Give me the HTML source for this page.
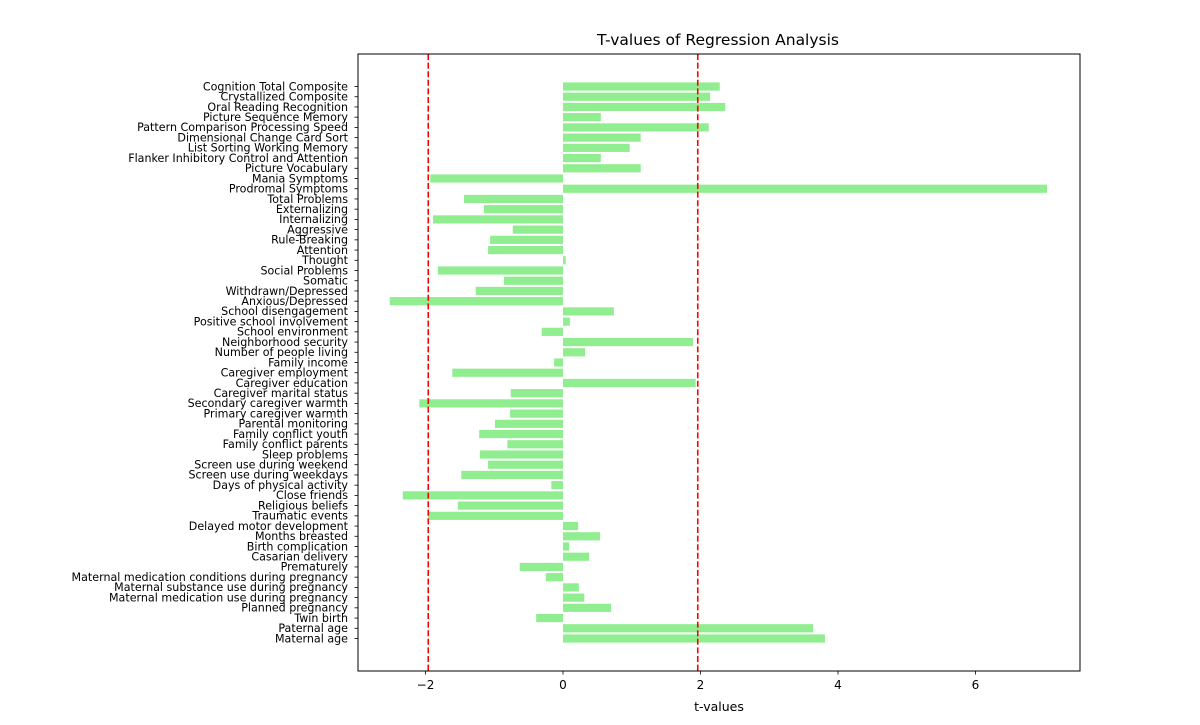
<!DOCTYPE html>
<html><head><meta charset="utf-8"><style>
body{margin:0;background:#fff}
svg{display:block;font-family:"DejaVu Sans","Liberation Sans",sans-serif}
</style></head><body>
<svg id="chart" width="1200" height="725" xmlns="http://www.w3.org/2000/svg">
<text x="718" y="45" font-size="15.5" text-anchor="middle">T-values of Regression Analysis</text>
<g id="bars"></g>
<g id="ylabels"></g>
<g id="xticks"></g>
<g id="refs"></g>
<rect x="358" y="54" width="722" height="617" fill="none" stroke="#000" stroke-width="1"/>
<text x="719" y="711" font-size="12.5" text-anchor="middle">t-values</text>
</svg>
<script>
const categories = ["Cognition Total Composite","Crystallized Composite","Oral Reading Recognition","Picture Sequence Memory","Pattern Comparison Processing Speed","Dimensional Change Card Sort","List Sorting Working Memory","Flanker Inhibitory Control and Attention","Picture Vocabulary","Mania Symptoms","Prodromal Symptoms","Total Problems","Externalizing","Internalizing","Aggressive","Rule-Breaking","Attention","Thought","Social Problems","Somatic","Withdrawn/Depressed","Anxious/Depressed","School disengagement","Positive school involvement","School environment","Neighborhood security","Number of people living","Family income","Caregiver employment","Caregiver education","Caregiver marital status","Secondary caregiver warmth","Primary caregiver warmth","Parental monitoring","Family conflict youth","Family conflict parents","Sleep problems","Screen use during weekend","Screen use during weekdays","Days of physical activity","Close friends","Religious beliefs","Traumatic events","Delayed motor development","Months breasted","Birth complication","Casarian delivery","Prematurely","Maternal medication conditions during pregnancy","Maternal substance use during pregnancy","Maternal medication use during pregnancy","Planned pregnancy","Twin birth","Paternal age","Maternal age"];
const tValues = [2.28,2.14,2.36,0.55,2.12,1.13,0.97,0.55,1.13,-1.93,7.04,-1.44,-1.15,-1.89,-0.73,-1.06,-1.09,0.04,-1.82,-0.86,-1.27,-2.52,0.74,0.1,-0.31,1.89,0.32,-0.13,-1.61,1.93,-0.76,-2.09,-0.77,-0.99,-1.22,-0.81,-1.21,-1.09,-1.48,-0.17,-2.33,-1.53,-1.96,0.22,0.54,0.09,0.38,-0.63,-0.25,0.23,0.31,0.7,-0.39,3.64,3.81];
const xTicks = [-2,0,2,4,6];
const refLines = [-1.96,1.96];
const NS="http://www.w3.org/2000/svg";
const x = v => 563 + v*68.75;
const n = categories.length;
const y = i => 638.5 - (n-1-i)*10.222;
function mk(t,a,p){const e=document.createElementNS(NS,t);for(const k in a)e.setAttribute(k,a[k]);p.appendChild(e);return e;}
const bars=document.getElementById('bars'), yl=document.getElementById('ylabels'), xt=document.getElementById('xticks'), refs=document.getElementById('refs');
categories.forEach((c,i)=>{
  const v=tValues[i];
  const r=mk('rect',{x:Math.min(x(0),x(v)),y:y(i)-4.1,width:Math.abs(x(v)-x(0)),height:8.2,fill:'#90ee90'},bars);
  
  
  mk('line',{x1:354.5,x2:358,y1:y(i),y2:y(i),stroke:'#000','stroke-width':0.8},yl);
  const t=mk('text',{x:348,y:y(i)+3.8,'font-size':11.1,'text-anchor':'end'},yl);
  t.textContent=c;
  
  
});
xTicks.forEach(v=>{
  mk('line',{x1:x(v),x2:x(v),y1:671,y2:674.5,stroke:'#000','stroke-width':0.8},xt);
  const t=mk('text',{x:x(v),y:689,'font-size':12,'text-anchor':'middle'},xt);
  t.textContent=v<0?'\u2212'+Math.abs(v):String(v);
  
  
});
refLines.forEach(v=>{
  const l=mk('line',{x1:x(v),x2:x(v),y1:54,y2:671,stroke:'#ff0000','stroke-width':1.6,'stroke-dasharray':'6,2.6'},refs);
  
  
});
</script>
</body></html>
